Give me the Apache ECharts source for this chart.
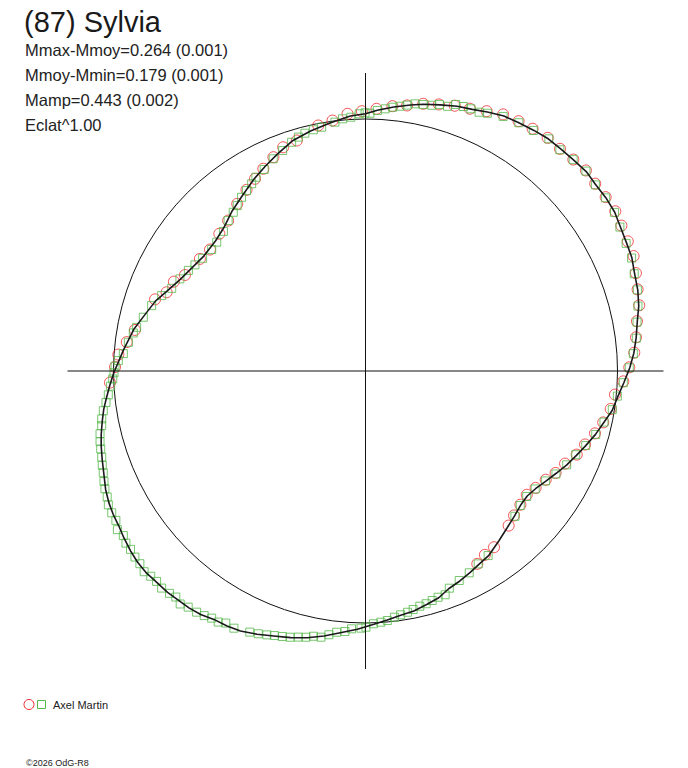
<!DOCTYPE html>
<html>
<head>
<meta charset="utf-8">
<title>(87) Sylvia</title>
<script src="https://cdn.jsdelivr.net/npm/echarts@6/dist/echarts.min.js"></script>
<style>
html, body { margin: 0; padding: 0; background: #fff; }
#main { width: 688px; height: 768px; }
</style>
</head>
<body>
<div id="main"></div>
<script>
// polar light curve of (87) Sylvia
// every point is [phase angle in degrees, radius], the reference circle has radius 252

var circleRadius = 252;
var outerRadius = 320;
var crossReach = 298;

// fitted curve (black line)
var fitCurve = [
    [0.7,264.3],[3.8,268.9],[7.0,272.7],[10.2,276.1],[13.4,280.9],[16.6,284.1],[19.8,286.1],[23.1,289.5],
    [26.2,290.8],[29.5,292.8],[32.5,295.5],[35.8,296.3],[39.1,296.2],[42.1,297.5],[45.5,296.3],[48.7,295.7],
    [51.8,295.5],[55.0,293.7],[58.3,291.8],[61.5,290.1],[64.8,286.2],[67.8,282.6],[70.9,280.1],[74.3,276.4],
    [77.7,273.0],[80.4,269.8],[83.9,265.5],[87.4,261.0],[90.0,257.3],[93.4,255.4],[98.0,250.8],[102.9,246.2],
    [107.7,241.4],[112.2,234.0],[116.0,228.1],[120.2,221.9],[125.2,214.1],[129.8,208.3],[134.7,201.5],[139.1,198.5],
    [144.6,198.4],[149.2,201.8],[153.6,206.5],[158.0,213.8],[161.6,221.4],[166.1,228.4],[169.8,235.4],[174.9,242.7],
    [180.4,251.7],[183.4,256.4],[185.9,260.4],[188.3,264.5],[190.8,268.0],[193.5,271.8],[195.8,274.7],[198.5,277.7],
    [201.2,280.8],[204.5,285.6],[207.2,288.5],[209.6,290.2],[212.1,291.3],[214.6,293.6],[217.5,296.0],[220.0,297.5],
    [222.5,298.0],[225.5,297.0],[228.2,297.0],[230.5,295.9],[233.3,295.4],[235.9,294.0],[238.6,291.0],[241.5,290.1],
    [244.3,288.5],[247.6,284.7],[250.9,280.4],[254.3,277.0],[257.7,273.0],[261.1,268.3],[264.5,262.9],[268.2,258.4],
    [271.9,253.4],[275.0,249.9],[278.2,246.8],[281.4,244.8],[284.8,241.3],[287.9,238.3],[290.9,233.1],[294.2,230.2],
    [297.3,227.1],[300.4,224.1],[303.8,221.8],[308.1,216.0],[312.1,211.3],[315.8,207.9],[319.1,205.1],[322.3,204.4],
    [325.3,206.8],[328.7,211.5],[331.8,216.4],[334.9,222.0],[338.2,227.2],[341.2,232.4],[344.6,238.6],[347.8,243.8],
    [350.9,249.8],[354.2,253.6],[357.4,258.6]
];

// session 1 (red circles)
var redPoints = [
    [0.8,263.8],[3.9,269.4],[7.1,272.6],[10.4,276.0],[13.5,281.5],[16.7,284.1],[19.9,287.6],[23.2,291.7],
    [26.3,292.6],[29.6,294.3],[32.6,296.5],[35.9,296.5],[39.2,296.4],[42.3,298.0],[45.5,296.5],[48.8,295.3],
    [52.0,295.9],[55.4,294.3],[58.5,293.0],[61.8,291.2],[65.0,286.7],[68.3,282.3],[71.4,279.9],[74.6,276.5],
    [77.8,273.4],[81.1,268.8],[84.2,266.2],[87.6,262.4],[90.8,259.8],[94.0,257.8],[97.5,252.6],[100.9,250.0],
    [106.6,240.5],[110.2,238.4],[113.3,232.8],[116.8,226.6],[119.9,221.7],[123.3,216.7],[127.5,210.7],[132.4,203.7],
    [136.8,200.5],[142.0,197.3],[145.9,200.0],[152.0,204.5],[155.0,211.4],[158.4,213.9],[161.2,222.3],[169.9,234.2],
    [173.1,240.5],[176.2,247.7],[179.1,250.5],[182.6,255.8],
    [300.1,222.9],[303.0,219.2],[306.1,218.1],[312.8,210.7],[315.8,207.2],[319.2,204.6],[322.5,203.3],[325.5,206.4],
    [328.9,210.5],[331.8,215.7],[335.1,220.0],[338.4,227.2],[341.5,231.5],[344.8,237.8],[347.8,243.2],[351.2,248.1],
    [354.6,250.6],[357.7,258.0]
];

// session 2 (green squares)
var greenPoints = [
    [0.7,263.8],[3.7,268.4],[6.9,272.8],[10.2,275.9],[13.4,280.1],[16.6,283.7],[19.9,285.8],[23.0,289.1],
    [26.1,290.2],[29.5,292.3],[32.5,295.2],[35.8,296.1],[39.0,295.8],[42.2,297.6],[45.5,296.3],[48.7,294.5],
    [51.7,295.8],[55.1,293.3],[58.3,291.8],[61.6,289.4],[64.7,285.1],[66.3,282.6],[68.1,282.6],[69.7,282.0],
    [71.3,281.4],[72.8,277.1],[74.5,276.5],[76.0,273.9],[77.8,272.7],[79.5,271.7],[81.1,269.1],[82.6,267.0],
    [84.1,265.2],[85.7,262.9],[87.4,260.8],[89.0,257.8],
    [90.1,258.2],[91.4,257.3],[93.3,254.2],[95.2,253.2],[97.0,250.7],[100.2,247.7],[102.2,246.8],[104.3,245.4],
    [106.0,243.3],[107.9,240.4],[110.6,235.5],[113.5,231.4],[116.7,225.5],[119.5,222.6],[121.3,219.1],[123.4,216.1],
    [125.5,213.4],[127.8,209.3],[129.8,206.6],[132.4,203.7],[135.5,199.2],[139.1,196.8],[141.7,196.0],[145.3,198.1],
    [148.1,200.9],[150.4,203.7],[153.6,207.2],[156.9,210.7],[159.7,217.3],[163.0,223.6],[166.4,228.6],[169.2,233.0],
    [170.7,235.3],[173.1,238.9],[175.9,242.8],[177.6,247.4],[178.9,250.5],
    [180.4,251.5],[181.8,252.9],[183.4,255.3],[185.3,258.3],[186.9,261.4],[188.6,265.2],[190.3,268.1],[191.7,269.4],
    [193.3,272.8],[194.9,274.7],[196.4,276.0],[198.1,277.5],[199.7,279.6],[201.2,281.3],[202.9,283.9],[204.3,285.9],
    [206.0,287.4],[207.5,289.9],[209.2,290.7],[210.9,290.9],[212.6,294.5],[214.2,292.8],[215.7,295.0],[217.2,295.0],
    [218.9,296.3],[220.5,296.7],[222.2,298.8],[223.7,297.1],[225.2,296.5],[226.8,297.8],[228.6,296.4],[230.0,295.1],
    [231.5,297.7],[233.1,295.3],[235.0,294.4],[236.6,293.0],[238.1,291.1],[239.6,291.1],[241.0,288.2],[242.9,288.9],
    [246.1,285.6],[247.8,283.8],[249.5,281.7],[251.0,279.8],[252.6,278.2],[254.2,276.7],[255.8,274.5],[257.4,272.8],
    [258.9,270.3],[260.5,269.9],[262.1,266.3],[263.7,262.8],[265.5,261.3],[266.9,258.2],
    [269.0,257.2],[270.1,256.2],[271.8,252.9],[273.5,251.7],[275.0,250.5],[276.7,247.9],[278.2,246.3],[279.9,244.9],
    [281.3,243.2],[283.0,241.4],[284.6,240.5],[286.2,239.0],[287.8,237.6],[289.6,237.5],[291.1,232.8],[294.1,229.5],
    [297.2,226.9],[300.3,223.4],[303.6,221.6],[315.8,208.4],[319.0,205.1],[322.1,204.3],[325.2,206.7],[328.6,211.0],
    [331.6,216.5],[335.0,222.0],[338.3,226.3],[341.3,232.5],[344.6,238.8],[347.9,243.9],[351.1,249.8],[354.3,253.1],
    [357.4,258.1]
];

var titleText = '(87) Sylvia';
var infoLines = ['Mmax-Mmoy=0.264 (0.001)', 'Mmoy-Mmin=0.179 (0.001)', 'Mamp=0.443 (0.002)', 'Eclat^1.00'];
var observerName = 'Axel Martin';
var footerText = '\u00a92026 OdG-R8';

var redColor = '#f0282d';
var greenColor = '#55b84a';
var fontName = '"Liberation Sans", Arial, sans-serif';
var center = [365.5, 371];

// ECharts polar wants [radius, angle]
function toPolar(list) {
    return list.map(function (p) { return [p[1], p[0]]; });
}

var chart = echarts.init(document.getElementById('main'), null, { renderer: 'svg' });

// 1. texts (title, stats, legend, footer)
var graphics = [{
    type: 'text', x: 24, y: 22,
    style: { text: titleText, font: '29px ' + fontName, fill: '#1a1a1a', verticalAlign: 'middle' }
}];
infoLines.forEach(function (line, i) {
    graphics.push({
        type: 'text', x: 25, y: 50 + i * 25,
        style: { text: line, font: '16.5px ' + fontName, fill: '#222', verticalAlign: 'middle' }
    });
});
graphics.push(
    { type: 'circle', shape: { cx: 29, cy: 704.5, r: 5 }, style: { fill: 'none', stroke: redColor, lineWidth: 1 } },
    { type: 'rect', shape: { x: 37.5, y: 700.5, width: 8, height: 8 }, style: { fill: 'none', stroke: greenColor, lineWidth: 1 } },
    { type: 'text', x: 53, y: 705, style: { text: observerName, font: '11px ' + fontName, fill: '#222', verticalAlign: 'middle' } },
    { type: 'text', x: 26, y: 763, style: { text: footerText, font: '9px ' + fontName, fill: '#222', verticalAlign: 'middle' } }
);

function hiddenRadius(max) {
    return {
        type: 'value', min: 0, max: max,
        axisLine: { show: false }, axisTick: { show: false }, axisLabel: { show: false }, splitLine: { show: false }
    };
}

// 2. two polar frames with the same centre:
//    polar 0 only draws the reference circle, polar 1 (larger) carries the data
var option = {
    backgroundColor: '#fff',
    animation: false,
    textStyle: { fontFamily: fontName },
    polar: [
        { center: center, radius: circleRadius },
        { center: center, radius: outerRadius }
    ],
    angleAxis: [{
        polarIndex: 0, type: 'value', min: 0, max: 360, startAngle: 0, clockwise: false,
        axisLine: { lineStyle: { color: '#111', width: 1 } },
        axisTick: { show: false }, axisLabel: { show: false }, splitLine: { show: false }
    }, {
        polarIndex: 1, type: 'value', min: 0, max: 360, startAngle: 0, clockwise: false,
        axisLine: { show: false }, axisTick: { show: false }, axisLabel: { show: false }, splitLine: { show: false }
    }],
    radiusAxis: [
        Object.assign({ polarIndex: 0 }, hiddenRadius(circleRadius)),
        Object.assign({ polarIndex: 1 }, hiddenRadius(outerRadius))
    ],
    graphic: graphics,
    series: [
        // crosshair through the centre
        {
            type: 'line', coordinateSystem: 'polar', polarIndex: 1, clip: false, silent: true, symbol: 'none',
            lineStyle: { color: '#111', width: 1 },
            data: [[crossReach, 0], [crossReach, 180]]
        },
        {
            type: 'line', coordinateSystem: 'polar', polarIndex: 1, clip: false, silent: true, symbol: 'none',
            lineStyle: { color: '#111', width: 1 },
            data: [[crossReach, 90], [crossReach, 270]]
        },
        // 3. observations
        {
            name: 'red', type: 'scatter', coordinateSystem: 'polar', polarIndex: 1, clip: false,
            symbol: 'circle', symbolSize: 11,
            itemStyle: { color: 'rgba(0,0,0,0)', borderColor: redColor, borderWidth: 1 },
            emphasis: { disabled: true },
            data: toPolar(redPoints)
        },
        {
            name: 'green', type: 'scatter', coordinateSystem: 'polar', polarIndex: 1, clip: false,
            symbol: 'rect', symbolSize: 8,
            itemStyle: { color: 'rgba(0,0,0,0)', borderColor: greenColor, borderWidth: 1 },
            emphasis: { disabled: true },
            data: toPolar(greenPoints)
        },
        // 4. fitted curve, closed
        {
            name: 'fit', type: 'line', coordinateSystem: 'polar', polarIndex: 1, clip: false, silent: true,
            symbol: 'none', smooth: false,
            lineStyle: { color: '#1a1a1a', width: 1.6 },
            data: toPolar(fitCurve.concat([fitCurve[0]]))
        }
    ]
};

chart.setOption(option);
</script>
</body>
</html>
